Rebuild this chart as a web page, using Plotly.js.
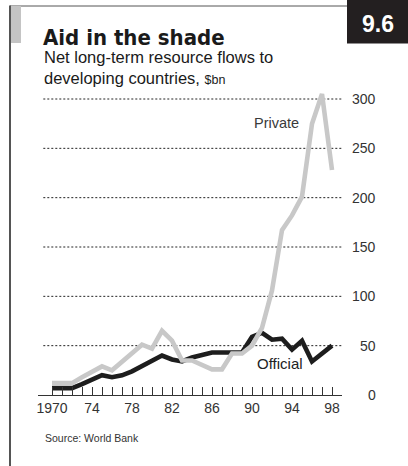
<!DOCTYPE html>
<html>
<head>
<meta charset="utf-8">
<script src="https://cdn.plot.ly/plotly-3.0.1.min.js"></script>
<style>
  html, body { margin: 0; padding: 0; background: #ffffff; }
  #chart { width: 408px; height: 466px; }
</style>
</head>
<body>
<div id="chart"></div>
<script>
// ---- Data ----
const years = [1970, 1971, 1972, 1973, 1974, 1975, 1976, 1977, 1978, 1979,
               1980, 1981, 1982, 1983, 1984, 1985, 1986, 1987, 1988, 1989,
               1990, 1991, 1992, 1993, 1994, 1995, 1996, 1997, 1998];
const officialFlows = [7, 7, 7, 11, 16, 20, 18, 20, 24, 29,
                       35, 40, 36, 34, 38, 41, 43, 43, 43, 43,
                       59, 63, 56, 57, 46, 55, 34, 42, 50];
const privateFlows = [12, 12, 12, 18, 23, 29, 25, 34, 42, 51,
                      47, 65, 55, 35, 35, 30, 26, 26, 42, 42,
                      50, 68, 106, 167, 182, 201, 275, 305, 228];
const xTickText = ['1970', '', '', '', '74', '', '', '', '78', '', '', '', '82', '', '', '',
                   '86', '', '', '', '90', '', '', '', '94', '', '', '', '98'];
const yTickVals = [0, 50, 100, 150, 200, 250, 300];
const yGridVals = [50, 100, 150, 200, 250, 300];

// ---- Layout geometry ----
const W = 408, H = 466;
const M = { l: 38, r: 66, t: 90, b: 71 };
const plotW = W - M.l - M.r, plotH = H - M.t - M.b;
const PX = x => (x - M.l) / plotW;          // pixel -> paper x
const PY = y => (H - M.b - y) / plotH;      // pixel -> paper y

const FONT = 'Liberation Sans, Arial, sans-serif';
const TFONT = 'DejaVu Sans Condensed, Liberation Sans, sans-serif';
const TXT = '#333333';

const traces = [
  {
    x: years, y: officialFlows, type: 'scatter', mode: 'lines',
    line: { color: '#1d1d1d', width: 4.6 }, hoverinfo: 'skip', showlegend: false
  },
  {
    x: years, y: privateFlows, type: 'scatter', mode: 'lines',
    line: { color: '#c8c8c8', width: 4.6 }, hoverinfo: 'skip', showlegend: false
  }
];

const shapes = [];
// dotted gridlines
yGridVals.forEach(v => shapes.push({
  type: 'line', xref: 'x', yref: 'y', x0: 1969.13, x1: 1999, y0: v, y1: v,
  line: { color: '#222222', width: 1, dash: '2px,2px' }, layer: 'below'
}));
// frame: left vertical rule
shapes.push({ type: 'line', xref: 'paper', yref: 'paper',
  x0: PX(10), x1: PX(10), y0: PY(5.5), y1: PY(470),
  line: { color: '#2a2a2a', width: 1.6 } });
// top rule
shapes.push({ type: 'line', xref: 'paper', yref: 'paper',
  x0: PX(10), x1: PX(347), y0: PY(6), y1: PY(6),
  line: { color: '#555555', width: 1 } });
// grey tab
shapes.push({ type: 'rect', xref: 'paper', yref: 'paper',
  x0: PX(11), x1: PX(21), y0: PY(6), y1: PY(43),
  fillcolor: '#c4c4c4', line: { width: 0 } });
// black number box
shapes.push({ type: 'rect', xref: 'paper', yref: 'paper',
  x0: PX(347), x1: PX(410), y0: PY(-2), y1: PY(43.5),
  fillcolor: '#231f20', line: { width: 0 } });

const annotations = [];
// right-aligned y tick labels
yTickVals.forEach(v => annotations.push({
  xref: 'paper', yref: 'y', x: PX(378), y: v, xanchor: 'right', yanchor: 'middle',
  text: String(v), showarrow: false, font: { family: FONT, size: 14, color: TXT }
}));
annotations.push(
  { xref: 'paper', yref: 'paper', x: PX(42), y: PY(57), xanchor: 'left', yanchor: 'middle',
    text: 'Net long-term resource flows to', showarrow: false,
    font: { family: FONT, size: 16.5, color: '#1a1a1a' } },
  { xref: 'paper', yref: 'paper', x: PX(42), y: PY(78), xanchor: 'left', yanchor: 'middle',
    text: 'developing countries, <span style="font-size:12.5px">$bn</span>', showarrow: false,
    font: { family: FONT, size: 16.5, color: '#1a1a1a' } },
  { xref: 'paper', yref: 'paper', x: PX(378), y: PY(24), xanchor: 'center', yanchor: 'middle',
    text: '<b>9.6</b>', showarrow: false,
    font: { family: FONT, size: 23, color: '#ffffff' } },
  { xref: 'x', yref: 'y', x: 1992.47, y: 276, xanchor: 'center', yanchor: 'middle',
    text: 'Private', showarrow: false, font: { family: FONT, size: 14.5, color: '#3a3a3a' } },
  { xref: 'x', yref: 'y', x: 1992.8, y: 31.5, xanchor: 'center', yanchor: 'middle',
    text: 'Official', showarrow: false, font: { family: FONT, size: 15, color: '#222222' } },
  { xref: 'paper', yref: 'paper', x: PX(43), y: PY(438), xanchor: 'left', yanchor: 'middle',
    text: 'Source: World Bank', showarrow: false, font: { family: FONT, size: 10.5, color: TXT } }
);

const layout = {
  width: W, height: H, autosize: false,
  margin: M,
  paper_bgcolor: '#ffffff', plot_bgcolor: '#ffffff',
  showlegend: false, hovermode: false,
  title: {
    text: '<b>Aid in the shade</b>',
    xref: 'paper', yref: 'container',
    x: PX(43), xanchor: 'left',
    y: 1 - 37 / H, yanchor: 'middle',
    font: { family: TFONT, size: 22, color: '#1a1a1a' }
  },
  xaxis: {
    range: [1968.6, 1999], fixedrange: true,
    tickmode: 'array', tickvals: years, ticktext: xTickText,
    ticks: 'inside', ticklen: 8, tickwidth: 1, tickcolor: '#333333',
    showline: true, linecolor: '#333333', linewidth: 1,
    showgrid: false, zeroline: false,
    tickfont: { family: FONT, size: 14, color: TXT }
  },
  yaxis: {
    range: [0, plotH / (296 / 300)], fixedrange: true,
    showticklabels: false, showgrid: false, zeroline: false, showline: false, ticks: ''
  },
  shapes: shapes,
  annotations: annotations
};

Plotly.newPlot('chart', traces, layout, { displayModeBar: false, staticPlot: true });
</script>
</body>
</html>
